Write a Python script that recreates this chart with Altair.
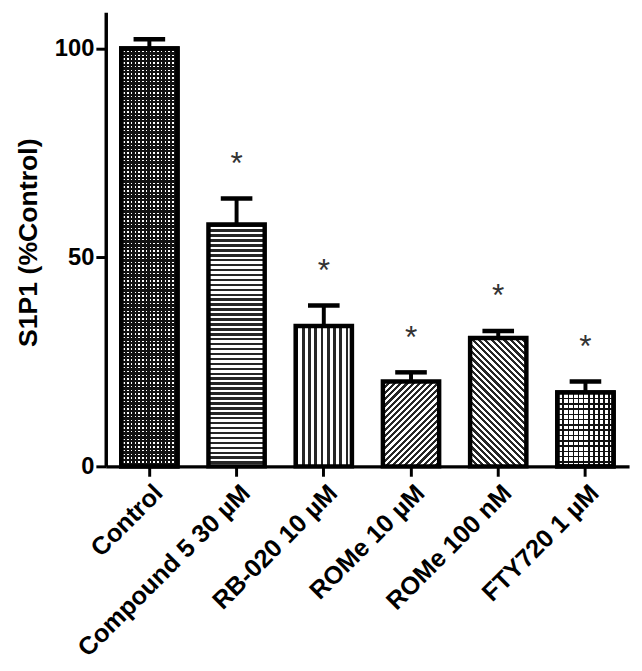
import math
import altair as alt
import pandas as pd

# ---------------- data ----------------
categories = ["Control", "Compound 5 30 µM", "RB-020 10 µM", "ROMe 10 µM", "ROMe 100 nM", "FTY720 1 µM"]
means = [100.0, 57.9, 33.6, 20.3, 30.7, 17.7]
errors = [2.2, 6.2, 4.9, 2.2, 1.7, 2.6]
signif = ["", "*", "*", "*", "*", "*"]
y_ticks = [0, 50, 100]

df = pd.DataFrame({"cat": categories, "mean": means, "err": errors, "sig": signif})

# ---------------- layout / style ----------------
W, H = 530, 460
YMAX = 108.7
P_INNER = 0.355
P_OUTER = P_INNER / 2
STEP = W / (len(categories) - P_INNER + 2 * P_OUTER)
BW = STEP * (1 - P_INNER)
PPU = H / YMAX
FONT = "Liberation Sans"
DARK = "#262626"
LIGHT = "#ffffff"
CLEAR = "rgba(0,0,0,0)"


def stops(n, frac, dark, light):
    out = []
    for i in range(n):
        a = round(i / n, 6)
        b = round((i + frac) / n, 6)
        c = round((i + 1) / n, 6)
        out += [
            {"offset": a, "color": dark},
            {"offset": b, "color": dark},
            {"offset": b, "color": light},
            {"offset": c, "color": light},
        ]
    return out


def hstripes(h, pitch, frac, dark=DARK, light=LIGHT):
    n = max(1, round(h / pitch))
    return {"gradient": "linear", "x1": 0, "y1": 0, "x2": 0, "y2": 1,
            "stops": stops(n, frac, dark, light)}


def vstripes(w, pitch, frac, dark=DARK, light=LIGHT):
    n = max(1, round(w / pitch))
    return {"gradient": "linear", "x1": 0, "y1": 0, "x2": 1, "y2": 0,
            "stops": stops(n, frac, dark, light)}


def diag(w, h, pitch, frac, direction, dark=DARK, light=LIGHT):
    r = h / w
    k = (1 + r) / (1 + r * r)
    n = max(1, round((w + h) / math.sqrt(2) / pitch))
    if direction == "/":
        x1, y1, x2, y2 = 0, 0, k, k * r
    else:
        x1, y1, x2, y2 = 0, 1, k, 1 - k * r
    return {"gradient": "linear", "x1": x1, "y1": y1, "x2": x2, "y2": y2,
            "stops": stops(n, frac, dark, light)}


def bar_h(i):
    return means[i] * PPU


x_enc = alt.X(
    "cat:N",
    sort=categories,
    scale=alt.Scale(domain=categories, paddingInner=P_INNER, paddingOuter=P_OUTER),
    axis=alt.Axis(
        title=None, labelAngle=-45, labelAlign="right", labelBaseline="top",
        labelFont=FONT, labelFontSize=25.5, labelFontWeight="bold", labelColor="black",
        labelPadding=4, labelOffset=1, labelLimit=0, labelOverlap=False,
        tickSize=10, tickWidth=3, tickColor="black",
        domainWidth=3.5, domainColor="black",
    ),
)
y_scale = alt.Scale(domain=[0, YMAX], nice=False, zero=True)
y_enc = alt.Y(
    "mean:Q",
    scale=y_scale,
    axis=alt.Axis(
        values=y_ticks, title="S1P1 (%Control)", grid=False,
        labelFont=FONT, labelFontSize=24, labelFontWeight="bold", labelColor="black",
        labelPadding=2, tickSize=10, tickWidth=3, tickColor="black",
        domainWidth=3.5, domainColor="black",
        titleFont=FONT, titleFontSize=27, titleFontWeight="bold", titleColor="black",
        titlePadding=12, titleY=233,
    ),
)

base = alt.Chart(df)


def bar_layer(i, fill):
    return (
        base.transform_filter(alt.FieldEqualPredicate(field="cat", equal=categories[i]))
        .mark_bar(fill=fill, stroke="black", strokeWidth=4.5)
        .encode(x=x_enc, y=y_enc)
    )


fills = [
    # Control: fine dark dot/grid pattern
    [vstripes(BW, 3.8, 0.6, dark="#111111"), hstripes(bar_h(0), 3.8, 0.6, dark="#111111", light=CLEAR)],
    [hstripes(bar_h(1), 5.0, 0.5)],
    [vstripes(BW, 6.2, 0.42)],
    [diag(BW, bar_h(3), 4.3, 0.5, "/")],
    [diag(BW, bar_h(4), 4.5, 0.5, "\\")],
    [vstripes(BW, 5.3, 0.3, dark="#111111"), hstripes(bar_h(5), 5.3, 0.3, dark="#111111", light=CLEAR)],
]

layers = []
for i, fl in enumerate(fills):
    for f in fl:
        layers.append(bar_layer(i, f))

err_base = base.transform_calculate(top="datum.mean + datum.err", star="datum.mean + datum.err + 9")

rules = err_base.mark_rule(color="black", strokeWidth=4).encode(
    x=alt.X("cat:N", sort=categories), y=alt.Y("mean:Q", scale=y_scale), y2="top:Q"
)
caps = err_base.mark_tick(color="black", thickness=4.5, size=32, opacity=1).encode(
    x=alt.X("cat:N", sort=categories), y=alt.Y("top:Q", scale=y_scale)
)
stars = err_base.mark_text(
    font=FONT, fontSize=32, color="#333333", baseline="alphabetic", dy=13
).encode(
    x=alt.X("cat:N", sort=categories), y=alt.Y("star:Q", scale=y_scale), text="sig:N"
)

layers += [rules, caps, stars]

chart = (
    alt.layer(*layers)
    .properties(
        width=W, height=H,
        autosize=alt.AutoSizeParams(type="none"),
        padding={"left": 99, "top": 0, "right": 5, "bottom": 200},
        background="white",
    )
    .configure_view(strokeWidth=0)
)

chart.save("out.html", embed_options={"renderer": "svg", "actions": False})
